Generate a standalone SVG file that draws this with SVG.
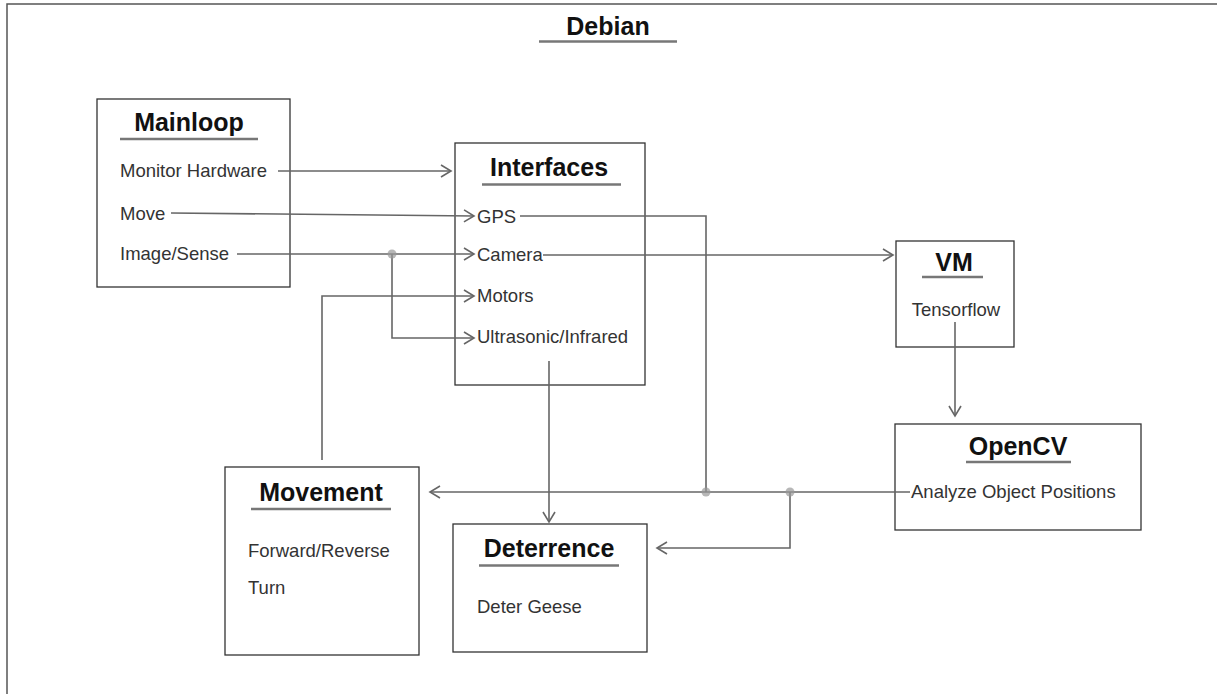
<svg xmlns="http://www.w3.org/2000/svg" width="1217" height="694" viewBox="0 0 1217 694">
<defs>
<style>
.frame{fill:none;stroke:#555;stroke-width:1.5}
.box{fill:#fff;stroke:#333;stroke-width:1.3}
.title{font-family:"Liberation Sans",Arial,sans-serif;font-weight:bold;font-size:25px;fill:#111;text-anchor:middle}
.item{font-family:"Liberation Sans",Arial,sans-serif;font-size:18.5px;fill:#333}
.ul{stroke:#777;stroke-width:2.5}
.conn{fill:none;stroke:#666;stroke-width:1.6}
.dot{fill:#999;opacity:0.7}
</style>
<marker id="arr" viewBox="-12 -7 14 14" refX="0" refY="0" markerWidth="14" markerHeight="14" markerUnits="userSpaceOnUse" orient="auto">
<path d="M-10,-6 L0,0 L-10,6" fill="none" stroke="#666" stroke-width="1.6"/>
</marker>
</defs>
<rect width="1217" height="694" fill="#fff"/>
<path class="frame" d="M7,694 V4 H1217"/>
<g id="debian-title">
<text class="title" x="608" y="35">Debian</text>
<line class="ul" x1="539" y1="41.5" x2="677" y2="41.5"/>
</g>
<g id="mainloop">
<rect class="box" x="97" y="99" width="193" height="188"/>
<text class="title" x="189" y="131">Mainloop</text>
<line class="ul" x1="120" y1="139" x2="258" y2="139"/>
<text class="item" x="120" y="177">Monitor Hardware</text>
<text class="item" x="120" y="220">Move</text>
<text class="item" x="120" y="260">Image/Sense</text>
</g>
<g id="interfaces">
<rect class="box" x="455" y="143" width="190" height="242"/>
<text class="title" x="549" y="176">Interfaces</text>
<line class="ul" x1="482" y1="184.5" x2="621" y2="184.5"/>
<text class="item" x="477" y="223">GPS</text>
<text class="item" x="477" y="261">Camera</text>
<text class="item" x="477" y="302">Motors</text>
<text class="item" x="477" y="343">Ultrasonic/Infrared</text>
</g>
<g id="vm">
<rect class="box" x="896" y="241" width="118" height="106"/>
<text class="title" x="954" y="271">VM</text>
<line class="ul" x1="922" y1="277" x2="983" y2="277"/>
<text class="item" x="956" y="316" text-anchor="middle">Tensorflow</text>
</g>
<g id="opencv">
<rect class="box" x="895" y="424" width="246" height="106"/>
<text class="title" x="1018" y="455">OpenCV</text>
<line class="ul" x1="966" y1="462" x2="1071" y2="462"/>
<text class="item" x="911" y="498">Analyze Object Positions</text>
</g>
<g id="movement">
<rect class="box" x="225" y="467" width="194" height="188"/>
<text class="title" x="321" y="501">Movement</text>
<line class="ul" x1="251" y1="509" x2="391" y2="509"/>
<text class="item" x="248" y="557">Forward/Reverse</text>
<text class="item" x="248" y="594">Turn</text>
</g>
<g id="deterrence">
<rect class="box" x="453" y="524" width="194" height="128"/>
<text class="title" x="549" y="557">Deterrence</text>
<line class="ul" x1="479" y1="565.5" x2="619" y2="565.5"/>
<text class="item" x="477" y="613">Deter Geese</text>
</g>
<g id="connectors">
<path class="conn" d="M278,171 H451" marker-end="url(#arr)"/>
<path class="conn" d="M171,213 L474,216" marker-end="url(#arr)"/>
<path class="conn" d="M237,254 H474" marker-end="url(#arr)"/>
<path class="conn" d="M392,254 V338 H474" marker-end="url(#arr)"/>
<path class="conn" d="M322,460 V296 H474" marker-end="url(#arr)"/>
<path class="conn" d="M520,216 H706 V492"/>
<path class="conn" d="M543,255 H893" marker-end="url(#arr)"/>
<path class="conn" d="M549,361 V522" marker-end="url(#arr)"/>
<path class="conn" d="M955,322 V416" marker-end="url(#arr)"/>
<path class="conn" d="M910,492 H430" marker-end="url(#arr)"/>
<path class="conn" d="M790,492 V548 H657" marker-end="url(#arr)"/>
<circle class="dot" cx="392" cy="254" r="4.5"/>
<circle class="dot" cx="706" cy="492" r="4.5"/>
<circle class="dot" cx="790" cy="492" r="4.5"/>
</g>
</svg>
